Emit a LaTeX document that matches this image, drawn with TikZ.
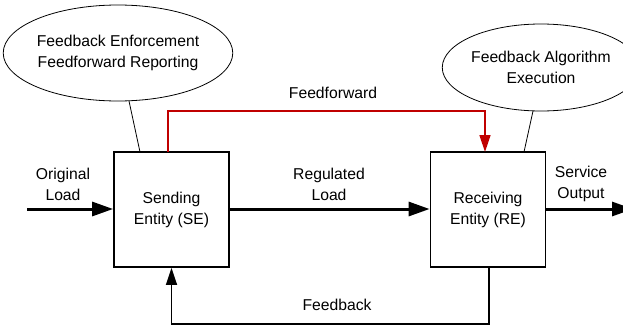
\documentclass[tikz,border=0pt]{standalone}
\usepackage{fontspec}
\setmainfont{Liberation Sans}
\usetikzlibrary{arrows.meta,shapes.geometric}
\definecolor{ffred}{RGB}{192,0,0}
\begin{document}
\begin{tikzpicture}[x=1pt,y=-1pt,
  every node/.style={font=\fontsize{15.7}{21}\selectfont, align=center, inner sep=0pt},
  entity/.style={draw, line width=1.8pt, minimum width=115pt, minimum height=115pt},
  bubble/.style={draw, ellipse, line width=0.8pt},
  thickarrow/.style={line width=3pt, -{Triangle[length=21pt,width=14pt]}},
  thinarrow/.style={line width=1.6pt, -{Triangle[length=17pt,width=11pt]}},
  lbl/.style={}]
\clip (0,0) rectangle (623,327);
\node[entity] (se) at (171.5,209.5) {Sending\\Entity (SE)};
\node[entity] (re) at (488,209.5) {Receiving\\Entity (RE)};
\node[bubble, minimum width=220pt, minimum height=96pt] (e1) at (118,53) {Feedback Enforcement\\Feedforward Reporting};
\node[bubble, minimum width=170pt, minimum height=87pt] (e2) at (541,67.5) {Feedback Algorithm\\Execution};
\coordinate (in) at (27,209);
\coordinate (out) at (633,209);
\draw[thickarrow] (in) -- (se.west |- in);
\draw[thickarrow] (se.east |- in) -- (re.west |- in);
\draw[thickarrow] (re.east |- in) -- (out);
\draw[thinarrow, color=ffred] (168,152) -- (168,111) -- (485,111) -- (485,152);
\draw[thinarrow] (489,267) -- (489,324) -- (171.5,324) -- (se.south);
\draw[line width=0.8pt] (129,101) -- (140,152);
\draw[line width=0.8pt] (533,111) -- (524,152);
\node[lbl] (ol) at (63,184) {Original\\Load};
\node[lbl] (rl) at (329,184) {Regulated\\Load};
\node[lbl] (so) at (581,184) {Service\\Output};
\node[lbl] (ff) at (333,93) {Feedforward};
\node[lbl] (fb) at (337,305) {Feedback};
\end{tikzpicture}
\end{document}
